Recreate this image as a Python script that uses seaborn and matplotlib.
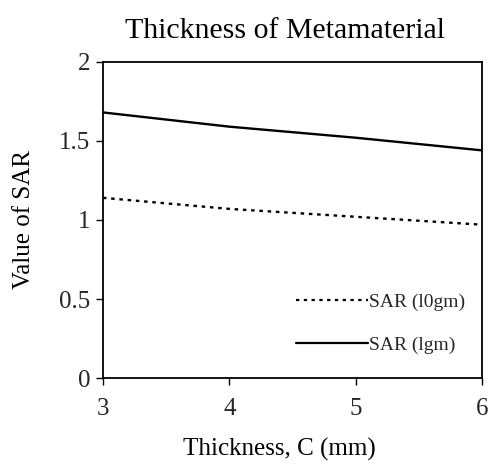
import matplotlib
matplotlib.use("Agg")
import matplotlib.pyplot as plt
import seaborn as sns
import pandas as pd

thickness = [3, 4, 5, 6]
sar_10gm = [1.14, 1.07, 1.02, 0.97]
sar_1gm = [1.68, 1.59, 1.52, 1.44]
series_names = ["SAR (l0gm)", "SAR (lgm)"]
x_ticks = [3, 4, 5, 6]
y_ticks = [0, 0.5, 1, 1.5, 2]

df = pd.DataFrame({
    "x": thickness * 2,
    "y": sar_10gm + sar_1gm,
    "series": [series_names[0]] * 4 + [series_names[1]] * 4,
})

sns.set_theme(style="white")
plt.rcParams["font.family"] = ["Liberation Serif", "DejaVu Serif"]

fig = plt.figure(figsize=(4.9, 4.72), dpi=100)
ax = fig.add_axes([0.210, 0.199, 0.774, 0.670])

sns.lineplot(data=df, x="x", y="y", hue="series", style="series",
             palette={series_names[0]: "black", series_names[1]: "black"},
             dashes={series_names[0]: (1.5, 2.0), series_names[1]: ""},
             linewidth=1.7, ax=ax, legend=True)

ax.set_xlim(3, 6)
ax.set_ylim(0, 2)
ax.set_xticks(x_ticks)
ax.set_xticklabels([str(v) for v in x_ticks])
ax.set_yticks(y_ticks)
ax.set_yticklabels(["0", "0.5", "1", "1.5", "2"])
ax.tick_params(axis="both", which="major", direction="out", length=5, width=1,
               color="black", labelsize=18, pad=4, bottom=True, left=True)
ax.tick_params(axis="x", pad=9)
for s in ax.spines.values():
    s.set_color("black")
    s.set_linewidth(1.3)

ax.set_title("Thickness of Metamaterial", fontsize=21.5, pad=17, color="black", x=0.48)
ax.set_xlabel("Thickness, C (mm)", fontsize=18, labelpad=10, color="black")
ax.xaxis.set_label_coords(0.465, -0.19)
ax.set_ylabel("Value of SAR", fontsize=18, labelpad=10, color="black")
ax.yaxis.set_label_coords(-0.178, 0.5)

leg = ax.legend(loc="lower right", bbox_to_anchor=(1.0, 0.02), frameon=False,
                fontsize=14, handlelength=3.7, handletextpad=0.05,
                labelspacing=1.3)
for h in leg.get_lines():
    h.set_linewidth(1.6)

fig.savefig("out.png", dpi=100)
